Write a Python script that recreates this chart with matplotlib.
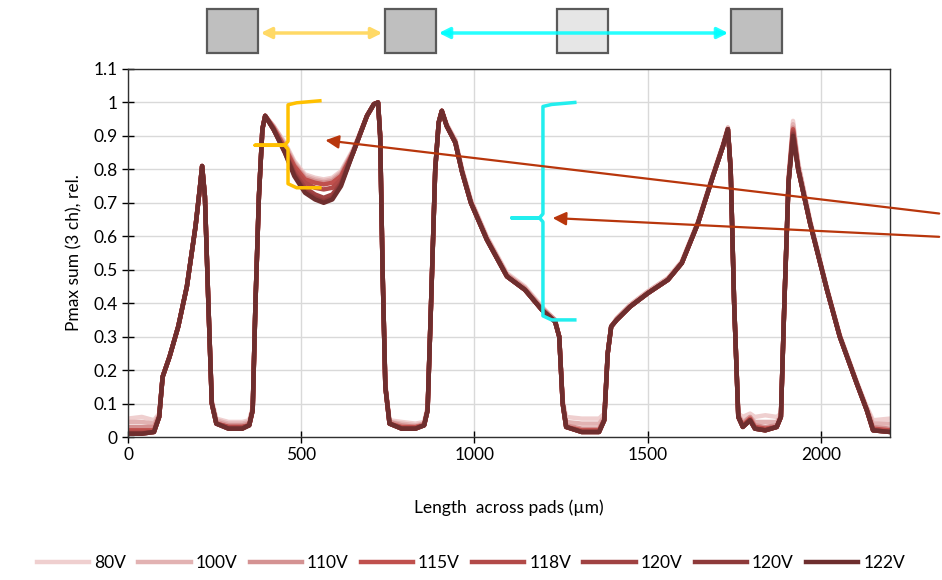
import numpy as np
import matplotlib.pyplot as plt
from matplotlib.patches import Rectangle, FancyArrowPatch

plt.rcParams['font.family'] = ['Lato', 'DejaVu Sans']

# Position across the pads (um), shared by all curves
length_um = [0, 40, 75, 90, 100, 110, 120, 145, 170, 195, 207, 214,
             222, 232, 242, 255, 290, 330, 350, 360, 368, 378, 388, 396,
             420, 453, 480, 511, 540, 565, 590, 615, 650, 690, 710, 722,
             728, 735, 743, 755, 790, 830, 855, 865, 875, 887, 897, 906,
             920, 945, 965, 990, 1036, 1094, 1146, 1195, 1233, 1245, 1255, 1265,
             1310, 1360, 1375, 1385, 1395, 1411, 1450, 1501, 1559, 1599, 1646, 1689,
             1718, 1732, 1740, 1750, 1762, 1775, 1796, 1810, 1840, 1873, 1885, 1895,
             1907, 1920, 1935, 1969, 2018, 2055, 2104, 2133, 2151, 2200]

# Relative Pmax sum, one list per bias voltage
pmax_80V = [0.055, 0.06, 0.05, 0.07, 0.18, 0.21, 0.24, 0.33, 0.45, 0.63, 0.74, 0.81,
            0.72, 0.40, 0.11, 0.055, 0.045, 0.045, 0.05, 0.09, 0.40, 0.72, 0.92, 0.96,
            0.93, 0.88, 0.825, 0.785, 0.775, 0.77, 0.775, 0.795, 0.86, 0.96, 0.995, 1.0,
            0.90, 0.50, 0.16, 0.05, 0.045, 0.04, 0.045, 0.09, 0.40, 0.80, 0.94, 0.975,
            0.935, 0.89, 0.80, 0.71, 0.60, 0.49, 0.45, 0.39, 0.35, 0.30, 0.11, 0.06,
            0.055, 0.055, 0.07, 0.25, 0.33, 0.355, 0.395, 0.435, 0.475, 0.525, 0.645, 0.785,
            0.875, 0.925, 0.80, 0.40, 0.07, 0.06, 0.07, 0.06, 0.065, 0.06, 0.07, 0.40,
            0.77, 0.945, 0.82, 0.65, 0.445, 0.305, 0.165, 0.09, 0.05, 0.055]
pmax_100V = [0.045, 0.045, 0.04, 0.065, 0.18, 0.21, 0.24, 0.33, 0.45, 0.63, 0.74, 0.81,
             0.72, 0.40, 0.105, 0.05, 0.04, 0.04, 0.045, 0.085, 0.40, 0.72, 0.92, 0.96,
             0.93, 0.875, 0.82, 0.78, 0.77, 0.765, 0.77, 0.79, 0.855, 0.96, 0.995, 1.0,
             0.90, 0.50, 0.155, 0.045, 0.04, 0.035, 0.04, 0.085, 0.40, 0.80, 0.94, 0.975,
             0.935, 0.885, 0.795, 0.705, 0.595, 0.485, 0.445, 0.385, 0.35, 0.30, 0.105, 0.045,
             0.04, 0.04, 0.06, 0.25, 0.33, 0.355, 0.395, 0.435, 0.475, 0.525, 0.645, 0.785,
             0.875, 0.925, 0.80, 0.40, 0.065, 0.045, 0.06, 0.045, 0.045, 0.045, 0.065, 0.40,
             0.77, 0.935, 0.815, 0.645, 0.445, 0.305, 0.165, 0.085, 0.04, 0.04]
pmax_110V = [0.03, 0.03, 0.03, 0.065, 0.18, 0.21, 0.24, 0.33, 0.45, 0.63, 0.74, 0.81,
             0.72, 0.40, 0.10, 0.045, 0.035, 0.035, 0.04, 0.08, 0.40, 0.72, 0.92, 0.96,
             0.925, 0.87, 0.815, 0.775, 0.765, 0.76, 0.765, 0.785, 0.855, 0.96, 0.995, 1.0,
             0.90, 0.50, 0.15, 0.045, 0.035, 0.03, 0.04, 0.08, 0.40, 0.80, 0.94, 0.975,
             0.93, 0.885, 0.795, 0.705, 0.595, 0.485, 0.445, 0.385, 0.35, 0.30, 0.10, 0.035,
             0.025, 0.025, 0.055, 0.25, 0.33, 0.35, 0.39, 0.43, 0.47, 0.52, 0.64, 0.78,
             0.87, 0.92, 0.80, 0.40, 0.065, 0.04, 0.06, 0.035, 0.03, 0.035, 0.06, 0.40,
             0.77, 0.925, 0.81, 0.645, 0.44, 0.30, 0.16, 0.085, 0.03, 0.025]
pmax_115V = [0.02, 0.02, 0.02, 0.06, 0.18, 0.21, 0.24, 0.33, 0.45, 0.63, 0.74, 0.81,
             0.72, 0.40, 0.10, 0.04, 0.03, 0.03, 0.035, 0.08, 0.40, 0.72, 0.92, 0.96,
             0.925, 0.865, 0.81, 0.77, 0.76, 0.755, 0.76, 0.78, 0.85, 0.96, 0.995, 1.0,
             0.90, 0.50, 0.15, 0.04, 0.03, 0.03, 0.035, 0.08, 0.40, 0.80, 0.94, 0.975,
             0.93, 0.88, 0.79, 0.70, 0.59, 0.48, 0.44, 0.38, 0.345, 0.30, 0.10, 0.03,
             0.02, 0.02, 0.05, 0.25, 0.33, 0.35, 0.39, 0.43, 0.47, 0.52, 0.64, 0.78,
             0.87, 0.92, 0.80, 0.40, 0.06, 0.035, 0.055, 0.03, 0.025, 0.03, 0.06, 0.40,
             0.76, 0.92, 0.80, 0.64, 0.44, 0.30, 0.16, 0.08, 0.025, 0.02]
pmax_118V = [0.015, 0.015, 0.015, 0.06, 0.18, 0.21, 0.24, 0.33, 0.45, 0.63, 0.74, 0.81,
             0.72, 0.40, 0.10, 0.04, 0.03, 0.03, 0.035, 0.08, 0.40, 0.72, 0.92, 0.96,
             0.92, 0.86, 0.80, 0.76, 0.745, 0.74, 0.745, 0.77, 0.85, 0.96, 0.995, 1.0,
             0.90, 0.50, 0.15, 0.04, 0.025, 0.025, 0.035, 0.08, 0.40, 0.80, 0.94, 0.975,
             0.93, 0.88, 0.79, 0.70, 0.59, 0.48, 0.44, 0.38, 0.345, 0.30, 0.10, 0.03,
             0.015, 0.015, 0.05, 0.25, 0.33, 0.35, 0.39, 0.43, 0.47, 0.52, 0.64, 0.78,
             0.87, 0.92, 0.80, 0.40, 0.06, 0.03, 0.05, 0.025, 0.02, 0.03, 0.06, 0.40,
             0.76, 0.915, 0.80, 0.64, 0.44, 0.30, 0.16, 0.08, 0.02, 0.015]
pmax_120V_a = [0.01, 0.01, 0.015, 0.06, 0.18, 0.21, 0.24, 0.33, 0.45, 0.63, 0.74, 0.81,
               0.72, 0.40, 0.10, 0.04, 0.025, 0.025, 0.035, 0.08, 0.40, 0.72, 0.92, 0.96,
               0.92, 0.855, 0.79, 0.745, 0.725, 0.715, 0.725, 0.76, 0.85, 0.96, 0.995, 1.0,
               0.90, 0.50, 0.15, 0.04, 0.025, 0.025, 0.035, 0.08, 0.40, 0.80, 0.94, 0.975,
               0.93, 0.88, 0.79, 0.70, 0.59, 0.48, 0.44, 0.38, 0.345, 0.30, 0.10, 0.03,
               0.015, 0.015, 0.05, 0.25, 0.33, 0.35, 0.39, 0.43, 0.47, 0.52, 0.64, 0.78,
               0.87, 0.92, 0.80, 0.40, 0.06, 0.03, 0.05, 0.025, 0.02, 0.03, 0.06, 0.40,
               0.76, 0.91, 0.80, 0.64, 0.44, 0.30, 0.16, 0.08, 0.02, 0.015]
pmax_120V_b = [0.01, 0.01, 0.015, 0.06, 0.18, 0.21, 0.24, 0.33, 0.45, 0.63, 0.74, 0.81,
               0.72, 0.40, 0.10, 0.04, 0.025, 0.025, 0.035, 0.08, 0.40, 0.72, 0.92, 0.96,
               0.92, 0.85, 0.785, 0.735, 0.715, 0.705, 0.715, 0.755, 0.85, 0.96, 0.995, 1.0,
               0.90, 0.50, 0.15, 0.04, 0.025, 0.025, 0.035, 0.08, 0.40, 0.80, 0.94, 0.975,
               0.93, 0.88, 0.79, 0.70, 0.59, 0.48, 0.44, 0.38, 0.345, 0.30, 0.10, 0.03,
               0.015, 0.015, 0.05, 0.25, 0.33, 0.35, 0.39, 0.43, 0.47, 0.52, 0.64, 0.78,
               0.87, 0.92, 0.80, 0.40, 0.06, 0.03, 0.05, 0.025, 0.02, 0.03, 0.06, 0.40,
               0.76, 0.905, 0.80, 0.64, 0.44, 0.30, 0.16, 0.08, 0.02, 0.015]
pmax_122V = [0.01, 0.01, 0.015, 0.06, 0.18, 0.21, 0.24, 0.33, 0.45, 0.63, 0.74, 0.81,
             0.72, 0.40, 0.10, 0.04, 0.025, 0.025, 0.035, 0.08, 0.40, 0.72, 0.92, 0.96,
             0.92, 0.85, 0.78, 0.73, 0.71, 0.70, 0.71, 0.75, 0.85, 0.96, 0.995, 1.0,
             0.90, 0.50, 0.15, 0.04, 0.025, 0.025, 0.035, 0.08, 0.40, 0.80, 0.94, 0.975,
             0.93, 0.88, 0.79, 0.70, 0.59, 0.48, 0.44, 0.38, 0.345, 0.30, 0.10, 0.03,
             0.015, 0.015, 0.05, 0.25, 0.33, 0.35, 0.39, 0.43, 0.47, 0.52, 0.64, 0.78,
             0.87, 0.92, 0.80, 0.40, 0.06, 0.03, 0.05, 0.025, 0.02, 0.03, 0.06, 0.40,
             0.76, 0.90, 0.80, 0.64, 0.44, 0.30, 0.16, 0.08, 0.02, 0.015]

labels = ['80V', '100V', '110V', '115V', '118V', '120V', '120V', '122V']
series = [pmax_80V, pmax_100V, pmax_110V, pmax_115V, pmax_118V,
          pmax_120V_a, pmax_120V_b, pmax_122V]
colors = ['#EFCFCF', '#E2B2B2', '#D49292', '#C0504D', '#B24A48',
          '#A04242', '#8E3A3A', '#6E2E2E']

fig = plt.figure(figsize=(9.42, 5.8), dpi=100)
ax = fig.add_axes([128/942, 1-437/580, (890-128)/942, (437-69)/580])

for y, c, lab in zip(series, colors, labels):
    ax.plot(length_um, y, color=c, lw=3.2, label=lab, solid_joinstyle='round')

ax.set_xlim(0, 2200)
ax.set_ylim(0, 1.1)
ax.set_xticks([0, 500, 1000, 1500, 2000])
yt = np.round(np.arange(0, 1.11, 0.1), 1)
ax.set_yticks(yt)
ax.set_yticklabels([f'{v:g}' for v in yt])
ax.grid(True, color='#D9D9D9', lw=1)
ax.set_axisbelow(True)
ax.tick_params(direction='inout', length=8, width=1, labelsize=12.5, colors='black')
for s in ax.spines.values():
    s.set_color('#303030')
    s.set_linewidth(1)

ax.set_xlabel('Length  across pads (µm)', fontsize=12.5, labelpad=26)
ax.set_ylabel('Pmax sum (3 ch), rel.', fontsize=12.5, labelpad=8)

# braces marking the ranges
def brace(xv, xend, xtip, ytop, ymid, ybot, color):
    r = 0.012
    xs = [xend, xv + 25, xv, xv, xv - 10, xtip, xtip, xv - 10, xv, xv, xv + 25, xend]
    ys = [ytop, ytop - r / 2, ytop - r, ymid + r, ymid, ymid, ymid, ymid, ymid - r, ybot + r, ybot, ybot]
    ax.plot(xs, ys, color=color, lw=2.5, clip_on=False, solid_joinstyle='round')

brace(462, 554, 367, 1.005, 0.872, 0.745, '#FFC000')
brace(1198, 1290, 1108, 1.0, 0.655, 0.35, '#22EEEE')

# pointers coming from outside the plot on the right
arrow_kw = dict(arrowstyle='-|>', color='#B8360C', lw=1.6, mutation_scale=20)
ax.annotate('', xy=(562, 0.888), xytext=(2350, 0.667), xycoords='data',
            arrowprops=arrow_kw, annotation_clip=False)
ax.annotate('', xy=(1218, 0.655), xytext=(2350, 0.598), xycoords='data',
            arrowprops=arrow_kw, annotation_clip=False)

# pad sketch at the top
def fx(px):
    return px / 942

def fy(py):
    return 1 - py / 580

for x0, face in [(207, '#BFBFBF'), (385, '#BFBFBF'), (557, '#E6E6E6'), (731, '#BFBFBF')]:
    fig.add_artist(Rectangle((fx(x0), fy(53)), fx(51), 44/580, transform=fig.transFigure,
                             facecolor=face, edgecolor='#5A5A5A', lw=1.6))

fig.add_artist(FancyArrowPatch((fx(258), fy(33)), (fx(385), fy(33)), transform=fig.transFigure,
                               arrowstyle='<|-|>', mutation_scale=16, color='#FFD966', lw=2.5))
fig.add_artist(FancyArrowPatch((fx(436), fy(33)), (fx(731), fy(33)), transform=fig.transFigure,
                               arrowstyle='<|-|>', mutation_scale=16, color='#00FFFF', lw=2.5,
                               alpha=0.85))

fig.legend(loc='center', bbox_to_anchor=(0.5, 1 - 563/580), ncol=8, frameon=False,
           fontsize=12.5, handlelength=3.0, columnspacing=0.7, handletextpad=0.3)

fig.savefig('out.png', dpi=100)
